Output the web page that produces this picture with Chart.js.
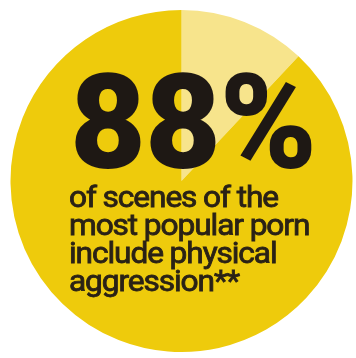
<!DOCTYPE html>
<html>
<head>
<meta charset="utf-8">
<script src="https://cdn.jsdelivr.net/npm/chart.js@4"></script>
<style>
html,body{margin:0;padding:0;background:#fff;}
#wrap{width:356px;height:358px;position:relative;}
</style>
</head>
<body>
<div id="wrap"><canvas id="c" width="356" height="358"></canvas></div>
<script>
const categories = ["Physical aggression", "No physical aggression"];
const values = [88, 12];
const sliceColors = ["#EECB0C", "#F7E48C"];
const headline = "88%";
const captionLines = ["of scenes of the", "most popular porn", "include physical", "aggression**"];

const textPlugin = {
  id: "centerText",
  afterDatasetsDraw(chart) {
    const ctx = chart.ctx;
    ctx.save();
    ctx.fillStyle = "#1E1814";
    ctx.textBaseline = "alphabetic";
    ctx.textAlign = "left";
    ctx.font = "900 131px Roboto";
    ctx.letterSpacing = "-1px";
    ctx.fillText(headline, 70, 168);
    ctx.letterSpacing = "-1px";
    ctx.fillStyle = "#2A2216";
    ctx.strokeStyle = "#2A2216";
    ctx.lineWidth = 0.8;
    ctx.font = "400 29px Roboto";
    const w = ctx.measureText(captionLines[0]).width;
    const sx = 209 / w;
    const base = [207, 235, 263, 291];
    captionLines.forEach((t, i) => {
      ctx.save();
      ctx.translate(69, base[i]);
      ctx.scale(sx, 1);
      ctx.fillText(t, 0, 0);
      ctx.strokeText(t, 0, 0);
      ctx.restore();
    });
    ctx.restore();
  }
};

new Chart(document.getElementById("c"), {
  type: "pie",
  data: {
    labels: categories,
    datasets: [{
      data: [values[1], values[0]],
      backgroundColor: [sliceColors[1], sliceColors[0]],
      borderWidth: 0
    }]
  },
  options: {
    responsive: false,
    animation: false,
    layout: { padding: { left: 10, right: 3, top: 10, bottom: 6 } },
    plugins: { legend: { display: false }, tooltip: { enabled: false } }
  },
  plugins: [textPlugin]
});
</script>
</body>
</html>
